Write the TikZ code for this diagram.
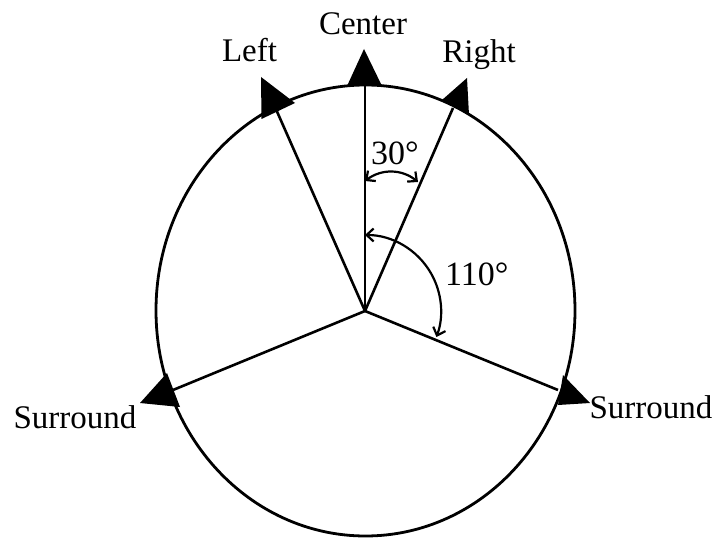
\documentclass[tikz,border=0pt]{standalone}
\usepackage{fontspec}
\setmainfont{Liberation Serif}
\usetikzlibrary{arrows.meta}
\begin{document}
\begin{tikzpicture}[x=1pt,y=1pt,
  ray/.style={line width=2.6pt},
  head/.style={fill=black},
  anglearc/.style={line width=2.2pt,{Straight Barb[length=7pt,width=13pt]}-{Straight Barb[length=7pt,width=13pt]}},
  lab/.style={inner sep=0pt,font=\fontsize{33}{40}\selectfont},
  num/.style={inner sep=0pt,font=\fontsize{34}{40}\selectfont}]
\useasboundingbox (0,0) rectangle (719,539);
% ellipse
\draw[line width=2.8pt] (365.5,228.5) ellipse[x radius=209.5, y radius=225.5];
% centre and ray ends
\coordinate (O) at (365,228);
\coordinate (eC) at (365,454);
\coordinate (eL) at (275,432);
\coordinate (eR) at (453,431);
\coordinate (eLS) at (173,149);
\coordinate (eRS) at (558,149);
\draw[ray] (O) -- (eC);
\draw[ray] (O) -- (eL);
\draw[ray] (O) -- (eR);
\draw[ray] (O) -- (eLS);
\draw[ray] (O) -- (eRS);
% arrowheads
\fill[head] (364,490) -- (347.5,454) -- (381.5,454) -- cycle;
\fill[head] (261,462) -- (295,436) -- (261.5,420) -- cycle;
\fill[head] (467,461) -- (442,439) -- (469,424) -- cycle;
\fill[head] (167,166) -- (140,136) -- (180,132) -- cycle;
\fill[head] (563,164) -- (558,134) -- (590,136) -- cycle;
% angle arcs
\coordinate (a1) at (365,358);
\coordinate (a2) at (418,357);
\draw[anglearc] (a1) to[bend left=38] (a2);
\draw[anglearc] (O) ++(90:76) arc[start angle=90, end angle=-20, radius=76];
% labels
\node[lab,anchor=base] (tC) at (363,504) {Center};
\node[lab,anchor=base] (tL) at (249.5,477) {Left};
\node[lab,anchor=base] (tR) at (479,476) {Right};
\node[lab,anchor=base] (tLS) at (75,111) {Surround};
\node[lab,anchor=base] (tRS) at (651,121) {Surround};
\node[num,anchor=base west] (t30) at (371,374) {30°};
\node[num,anchor=base west] (t110) at (445,254) {110°};
\end{tikzpicture}
\end{document}
